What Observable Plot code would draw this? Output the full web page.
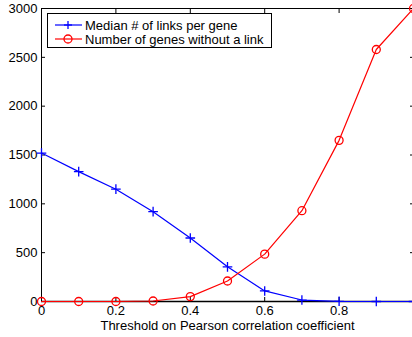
<!DOCTYPE html>
<html><head><meta charset="utf-8">
<script src="https://cdn.jsdelivr.net/npm/d3@7"></script>
<script src="https://cdn.jsdelivr.net/npm/@observablehq/plot@0.6"></script>
<style>
body{margin:0;background:#fff}
#wrap{position:relative;width:412px;height:337px;overflow:hidden;font-family:"Liberation Sans",Arial,Helvetica,sans-serif}
#legend{position:absolute;left:47px;top:13px;width:223px;height:33px;border:1px solid #000;background:#fff;font-size:13px;color:#000}
.row{position:absolute;left:0;height:14px;display:flex;align-items:center}
.row svg{margin-left:7px;margin-right:3px}
</style>
</head><body><div id="wrap"></div>
<script>
const thresholds = [0, 0.1, 0.2, 0.3, 0.4, 0.5, 0.6, 0.7, 0.8, 0.9, 1.0];
const medianLinks = [1520, 1330, 1150, 920, 650, 355, 108, 15, 2, 0, 0];
const genesWithout = [0, 0, 0, 5, 50, 210, 485, 930, 1650, 2580, 3000];
const xTicks = [0, 0.2, 0.4, 0.6, 0.8, 1];
const xTickLabels = [0, 0.2, 0.4, 0.6, 0.8];
const yTicks = [0, 500, 1000, 1500, 2000, 2500, 3000];
const seriesNames = ["Median # of links per gene", "Number of genes without a link"];
const seriesColors = ["#0000ff", "#ff0000"];
const xLabel = "Threshold on Pearson correlation coefficient";

const rows = thresholds.map((t, i) => ({t, m: medianLinks[i], g: genesWithout[i]}));
const font = '"Liberation Sans", Arial, Helvetica, sans-serif';

const chart = Plot.plot({
  width: 412, height: 337,
  marginLeft: 41, marginRight: -1, marginTop: 8, marginBottom: 36,
  x: {domain: [0, 1], label: null},
  y: {domain: [0, 3000], label: null},
  style: {fontFamily: font, fontSize: "13px", color: "#000", background: "#fff"},
  marks: [
    Plot.axisX(xTicks, {anchor: "bottom", tickSize: -4, text: null, label: null}),
    Plot.axisX(xTicks, {anchor: "top", tickSize: -4, text: null, label: null}),
    Plot.axisY(yTicks, {anchor: "left", tickSize: -4, text: null, label: null}),
    Plot.axisY(yTicks, {anchor: "right", tickSize: -4, text: null, label: null}),
    Plot.axisX(xTickLabels, {anchor: "bottom", tickSize: 0, tickPadding: 4, tickFormat: d => String(d), label: null}),
    Plot.axisY(yTicks, {anchor: "left", tickSize: 0, tickPadding: 4, tickFormat: d => String(d), label: null}),
    Plot.frame({stroke: "#000", strokeWidth: 1}),
    Plot.ruleY([0], {stroke: "#000", strokeWidth: 1.5}),
    Plot.text([xLabel], {frameAnchor: "bottom", dy: 28, fontSize: 13, fill: "#000"}),
    Plot.line(rows, {x: "t", y: "m", stroke: seriesColors[0], strokeWidth: 1.2}),
    Plot.dot(rows, {x: "t", y: "m", symbol: "plus", r: 3.2, stroke: seriesColors[0], strokeWidth: 1.3}),
    Plot.line(rows, {x: "t", y: "g", stroke: seriesColors[1], strokeWidth: 1.2}),
    Plot.dot(rows, {x: "t", y: "g", symbol: "circle", r: 4, stroke: seriesColors[1], fill: "none", strokeWidth: 1.3})
  ]
});
const wrap = document.getElementById("wrap");
wrap.appendChild(chart);

const legend = document.createElement("div");
legend.id = "legend";
seriesNames.forEach((name, i) => {
  const row = document.createElement("div");
  row.className = "row";
  row.style.top = (i === 0 ? 4 : 18) + "px";
  const marker = i === 0
    ? `<line x1="13" y1="3" x2="13" y2="11" stroke="${seriesColors[i]}" stroke-width="1.3"/><line x1="9" y1="7" x2="17" y2="7" stroke="${seriesColors[i]}" stroke-width="1.3"/>`
    : `<circle cx="13" cy="7" r="4" fill="none" stroke="${seriesColors[i]}" stroke-width="1.3"/>`;
  row.innerHTML = `<svg width="27" height="14"><line x1="0" y1="7" x2="27" y2="7" stroke="${seriesColors[i]}" stroke-width="1.2"/>${marker}</svg><span>${name}</span>`;
  legend.appendChild(row);
});
wrap.appendChild(legend);
</script>
</body></html>
